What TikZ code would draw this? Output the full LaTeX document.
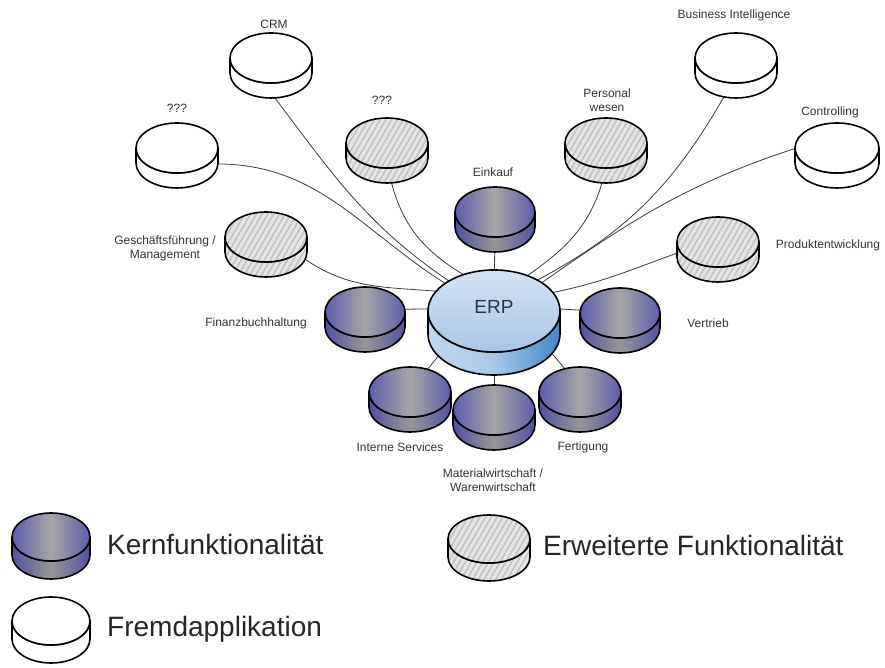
\documentclass[tikz,border=0pt]{standalone}
\usepackage{fontspec}
\setmainfont{Liberation Sans}
\usetikzlibrary{shapes.geometric, patterns.meta, backgrounds, calc}

\definecolor{coreblue}{HTML}{5C5CAC}
\definecolor{coregray}{HTML}{A6A6A6}
\definecolor{coreblueD}{HTML}{5252A2}
\definecolor{coregrayD}{HTML}{969696}
\definecolor{erptopA}{HTML}{D3E3F5}
\definecolor{erptopB}{HTML}{A8C5E7}
\definecolor{erpsideA}{HTML}{C2D7EF}
\definecolor{erpsideB}{HTML}{3F88C8}
\definecolor{erptext}{HTML}{263447}
\definecolor{hatchbg}{HTML}{E4E4E4}
\definecolor{hatchln}{HTML}{C0C0C0}
\definecolor{linkgray}{HTML}{3C3C3C}
\definecolor{labelgray}{HTML}{333333}

\tikzset{
  rim/.style={draw=black, line width=1.6pt},
  coretop/.style={rim, left color=coreblue, right color=coreblue, middle color=coregray},
  coreside/.style={rim, left color=coreblueD, right color=coreblueD, middle color=coregrayD},
  exttop/.style={rim, preaction={fill=hatchbg}, pattern={Lines[angle=60, distance=5pt, line width=1.4pt]}, pattern color=hatchln},
  extside/.style={exttop},
  apptop/.style={rim, fill=white},
  appside/.style={rim, fill=white},
  erptop/.style={rim, top color=erptopA, bottom color=erptopB},
  erpside/.style={rim, left color=erpsideA, right color=erpsideB, middle color=erpsideA!80!erpsideB},
  hull/.style={ellipse, draw=none, inner sep=0pt},
  link/.style={draw=linkgray, line width=0.8pt},
  lbl/.style={font=\fontsize{12}{14}\selectfont, text=labelgray, align=center},
  legend/.style={font=\fontsize{28}{32}\selectfont, text=black!85, anchor=base west, inner sep=0pt}
}

% position, name, x radius, y radius, height, kind
\newcommand{\drawdisk}[6]{%
  \path[#6side] (#1) ++(-#3,0) -- ++(0,-#5)
    arc[start angle=180, end angle=360, x radius=#3, y radius=#4] -- ++(0,#5)
    arc[start angle=0, end angle=-180, x radius=#3, y radius=#4] -- cycle;
  \path[#6top] (#1) ellipse[x radius=#3, y radius=#4];
  \node[hull, minimum width=2*#3, minimum height=2*#4+#5] (#2) at ($(#1)+(0,-#5/2)$) {};
}

\begin{document}
\begin{tikzpicture}[x=1pt, y=1pt]
  \useasboundingbox (0,0) rectangle (885,668);

  \drawdisk{494,357}{erp}{66}{41}{23}{erp}
  \node[font=\fontsize{19}{22}\selectfont, text=erptext] (erplbl) at (494,361) {ERP};

  \drawdisk{495,456}{eink}{40}{25}{15}{core}
  \drawdisk{365,356}{fibu}{40}{25}{15}{core}
  \drawdisk{620,355}{vert}{40}{25}{15}{core}
  \drawdisk{410,276}{ints}{41}{25}{15}{core}
  \drawdisk{494,258}{mat}{41}{25}{15}{core}
  \drawdisk{580,276}{fert}{41}{25}{15}{core}

  \drawdisk{387,525}{unk2}{41}{25}{15}{ext}
  \drawdisk{606,525}{pers}{41}{25}{15}{ext}
  \drawdisk{266,431}{gf}{41}{25}{15}{ext}
  \drawdisk{718,426}{prod}{41}{25}{15}{ext}

  \drawdisk{271,610}{crm}{41}{25}{15}{app}
  \drawdisk{177,520}{unk1}{41}{25}{15}{app}
  \drawdisk{736,610}{bi}{41}{25}{15}{app}
  \drawdisk{837,520}{ctrl}{42}{25}{15}{app}

  \begin{pgfonlayer}{background}
    \draw[link] (crm.-83) to[out=-53, in=146] (erp.137);
    \draw[link] (unk1.-12) to[out=0, in=148] (erp.141);
    \draw[link] (unk2.-82) to[out=-75, in=149] (erp.122);
    \draw[link] (gf.-20) to[out=-35, in=175] (erp.150);
    \draw[link] (eink) -- (erp);
    \draw[link] (pers.-97) to[out=-107, in=35] (erp.55);
    \draw[link] (bi.-111) to[out=-120, in=28] (erp.45);
    \draw[link] (ctrl.170) to[out=198, in=35] (erp.40);
    \draw[link] (prod.185) to[out=200, in=11] (erp.28);
    \draw[link] (fibu.15) -- (erp.168);
    \draw[link] (erp.12) -- (vert.165);
    \draw[link] (ints.60) -- (erp.210);
    \draw[link] (erp) -- (mat);
    \draw[link] (fert.116) -- (erp.-27);
  \end{pgfonlayer}

  \node[lbl] (crmlbl) at (274,644) {CRM};
  \node[lbl] (unk1lbl) at (177,560) {???};
  \node[lbl] (unk2lbl) at (382,568) {???};
  \node[lbl] (perslbl) at (607,568) {Personal\\wesen};
  \node[lbl] (bilbl) at (734,653) {Business Intelligence};
  \node[lbl] (ctrllbl) at (830,556) {Controlling};
  \node[lbl] (prodlbl) at (828,423) {Produktentwicklung};
  \node[lbl] (einklbl) at (493,496) {Einkauf};
  \node[lbl] (vertlbl) at (708,345) {Vertrieb};
  \node[lbl] (fibulbl) at (256,345) {Finanzbuchhaltung};
  \node[lbl] (gflbl) at (165,420) {Geschäftsführung /\\Management};
  \node[lbl] (intslbl) at (400,221) {Interne Services};
  \node[lbl] (fertlbl) at (583,221) {Fertigung};
  \node[lbl] (matlbl) at (493,188) {Materialwirtschaft /\\Warenwirtschaft};

  \drawdisk{51,131}{kernkey}{39}{24}{18}{core}
  \drawdisk{51,47}{fremdkey}{39}{24}{18}{app}
  \drawdisk{489,129}{erwkey}{41}{24}{18}{ext}
  \node[legend] (kernlbl) at (107,113) {Kernfunktionalität};
  \node[legend] (fremdlbl) at (107,31) {Fremdapplikation};
  \node[legend] (erwlbl) at (543,112) {Erweiterte Funktionalität};
\end{tikzpicture}
\end{document}
